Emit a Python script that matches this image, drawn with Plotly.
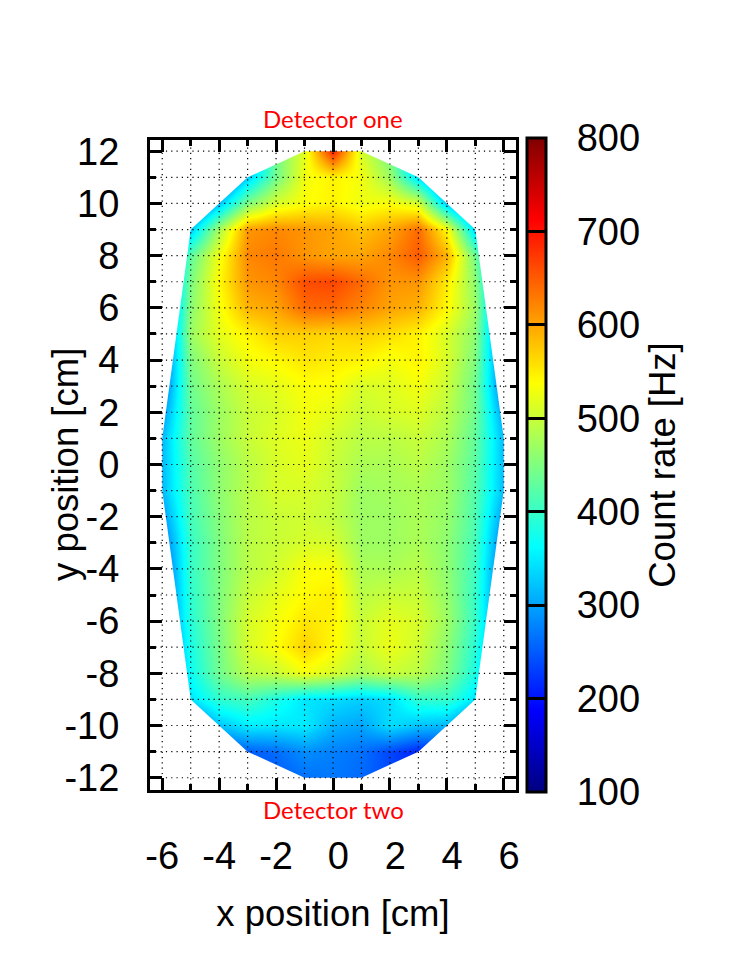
import plotly.graph_objects as go

x_cm = [-6, -5, -4, -3, -2, -1, 0, 1, 2, 3, 4, 5, 6]
y_cm = [12, 11, 10, 9, 8, 7, 6, 5, 4, 3, 2, 1, 0, -1, -2, -3, -4, -5, -6, -7, -8, -9, -10, -11, -12]

rate_hz = [
    [200, 200, 200, 250, 440, 520, 690, 510, 440, 250, 200, 200, 200],
    [200, 200, 220, 330, 440, 530, 545, 530, 470, 340, 220, 200, 200],
    [200, 220, 320, 450, 510, 535, 545, 525, 535, 510, 320, 220, 200],
    [200, 330, 480, 610, 620, 610, 600, 580, 600, 640, 540, 335, 200],
    [240, 430, 530, 620, 630, 610, 600, 600, 620, 650, 590, 440, 240],
    [240, 450, 540, 610, 620, 660, 665, 640, 610, 610, 550, 460, 240],
    [240, 460, 530, 590, 600, 640, 640, 620, 600, 590, 540, 470, 240],
    [240, 470, 520, 545, 570, 570, 565, 570, 560, 545, 510, 460, 240],
    [250, 450, 500, 530, 540, 555, 550, 545, 530, 545, 510, 450, 250],
    [260, 440, 480, 510, 520, 535, 535, 510, 515, 530, 500, 440, 260],
    [290, 430, 470, 500, 510, 530, 520, 500, 510, 515, 490, 440, 290],
    [315, 430, 470, 500, 515, 525, 505, 490, 490, 500, 480, 430, 315],
    [315, 420, 460, 490, 510, 520, 500, 480, 480, 490, 470, 425, 315],
    [315, 415, 460, 490, 510, 510, 500, 470, 475, 480, 470, 420, 315],
    [290, 410, 455, 490, 500, 505, 495, 470, 470, 480, 465, 415, 290],
    [265, 400, 450, 490, 500, 510, 510, 470, 470, 480, 460, 410, 265],
    [250, 400, 450, 490, 505, 535, 535, 480, 480, 490, 460, 405, 250],
    [250, 395, 450, 500, 520, 540, 550, 490, 500, 500, 465, 400, 250],
    [250, 390, 450, 510, 530, 555, 545, 500, 520, 510, 470, 400, 250],
    [240, 380, 445, 510, 535, 570, 540, 500, 525, 505, 460, 390, 240],
    [230, 370, 440, 490, 500, 530, 510, 480, 500, 490, 450, 380, 230],
    [220, 345, 395, 410, 380, 345, 340, 330, 340, 395, 400, 345, 220],
    [220, 250, 320, 350, 345, 350, 310, 300, 340, 320, 310, 250, 220],
    [220, 220, 240, 250, 262, 285, 275, 265, 235, 210, 220, 220, 220],
    [220, 220, 220, 240, 250, 265, 270, 260, 240, 220, 220, 220, 220],
]

hull_x = [-6, -6, -5, -3, -1, 1, 3, 5, 6, 6, 5, 3, 1, -1, -3, -5, -6]
hull_y = [0, -1, -9, -11, -12, -12, -11, -9, -1, 1, 9, 11, 12, 12, 11, 9, 1]

x_major = [-6, -4, -2, 0, 2, 4, 6]
x_labels = ["-6", "-4", "-2", "\u00a00", "\u00a02", "\u00a04", "\u00a06"]
y_major = [12, 10, 8, 6, 4, 2, 0, -2, -4, -6, -8, -10, -12]
y_labels = ["12", "10", "8", "6", "4", "2", "0", "-2", "-4", "-6", "-8", "-10", "-12"]
bar_ticks = [100, 200, 300, 400, 500, 600, 700, 800]

X_RANGE = [-6.43, 6.43]
Y_RANGE = [-12.47, 12.43]

jet = [
    [0.0, "rgb(0,0,128)"],
    [0.125, "rgb(0,0,255)"],
    [0.375, "rgb(0,255,255)"],
    [0.625, "rgb(255,255,0)"],
    [0.875, "rgb(255,0,0)"],
    [1.0, "rgb(128,0,0)"],
]

FONT = "Liberation Sans, Arial, sans-serif"
TICK_SIZE = 38
TITLE_SIZE = 36.5
fig = go.Figure()

fig.add_trace(go.Heatmap(
    x=x_cm, y=y_cm, z=rate_hz, zmin=100, zmax=800, zsmooth="best",
    colorscale=jet, hoverinfo="skip",
    colorbar=dict(
        lenmode="pixels", len=654, thicknessmode="pixels", thickness=19,
        x=1.0314, xanchor="left", xref="paper", y=0.5, yanchor="middle",
        outlinecolor="black", outlinewidth=3, borderwidth=0, xpad=0, ypad=0,
        tickmode="array", tickvals=bar_ticks,
        ticktext=["\u00a0\u00a0" + str(v) for v in bar_ticks],
        ticks="inside", ticklen=19, tickwidth=3, tickcolor="black",
        tickfont=dict(family=FONT, size=TICK_SIZE, color="black"),
        title=dict(text="Count rate [Hz]", side="right",
                   font=dict(family=FONT, size=TITLE_SIZE, color="black")),
    ),
))

# white cover outside the measured outline
mask_x = [X_RANGE[0], X_RANGE[0], X_RANGE[1], X_RANGE[1], X_RANGE[0], X_RANGE[0]] + hull_x + [-6, X_RANGE[0]]
mask_y = [0, Y_RANGE[1], Y_RANGE[1], Y_RANGE[0], Y_RANGE[0], 0] + hull_y + [0, 0]
fig.add_trace(go.Scatter(x=mask_x, y=mask_y, mode="lines", fill="toself", fillcolor="white",
                         line=dict(width=0), hoverinfo="skip", showlegend=False))

# dotted grid at every centimetre, above the map
gx, gy = [], []
for v in x_cm:
    gx += [v, v, None]
    gy += [Y_RANGE[0], Y_RANGE[1], None]
for v in y_cm:
    gx += [X_RANGE[0], X_RANGE[1], None]
    gy += [v, v, None]
fig.add_trace(go.Scatter(x=gx, y=gy, mode="lines", line=dict(color="black", width=1.2, dash="1.2px 4.1px"),
                         hoverinfo="skip", showlegend=False))

tick_common = dict(
    showline=True, linecolor="black", linewidth=3, mirror="allticks",
    ticks="inside", ticklen=12, tickwidth=3, tickcolor="black",
    showgrid=False, zeroline=False, tickmode="array", automargin=False,
    tickfont=dict(family=FONT, size=TICK_SIZE, color="black"),
    minor=dict(ticks="inside", ticklen=6, tickwidth=3, tickcolor="black",
               tickmode="linear", tick0=0, dtick=1, showgrid=False),
)
fig.update_xaxes(range=X_RANGE, tickvals=x_major, ticktext=x_labels, ticklabelstandoff=30,
                 title=dict(text="x position [cm]", standoff=25,
                            font=dict(family=FONT, size=TITLE_SIZE, color="black")), **tick_common)
fig.update_yaxes(range=Y_RANGE, tickvals=y_major, ticktext=y_labels, ticklabelstandoff=20, **tick_common)

fig.add_annotation(text="y position [cm]", xref="paper", yref="paper", x=0, y=0.5, xanchor="center",
                   yanchor="middle", textangle=-90, showarrow=False, xshift=-85,
                   font=dict(family=FONT, size=TITLE_SIZE, color="black"))

for text, yp, anchor, shift in [("Detector one", 1.0, "bottom", 5), ("Detector two", 0.0, "top", -3)]:
    fig.add_annotation(text=text, xref="paper", yref="paper", x=0.5, y=yp, yanchor=anchor,
                       xanchor="center", showarrow=False, yshift=shift,
                       font=dict(family="Lato, sans-serif", size=24, color="red"))

fig.update_layout(
    width=740, height=971, showlegend=False,
    paper_bgcolor="white", plot_bgcolor="white",
    margin=dict(l=150, r=223.5, t=140, b=180.5, autoexpand=False),
)
fig.write_html("out.html", config={"displayModeBar": False}, post_script="document.body.style.margin='0';")
